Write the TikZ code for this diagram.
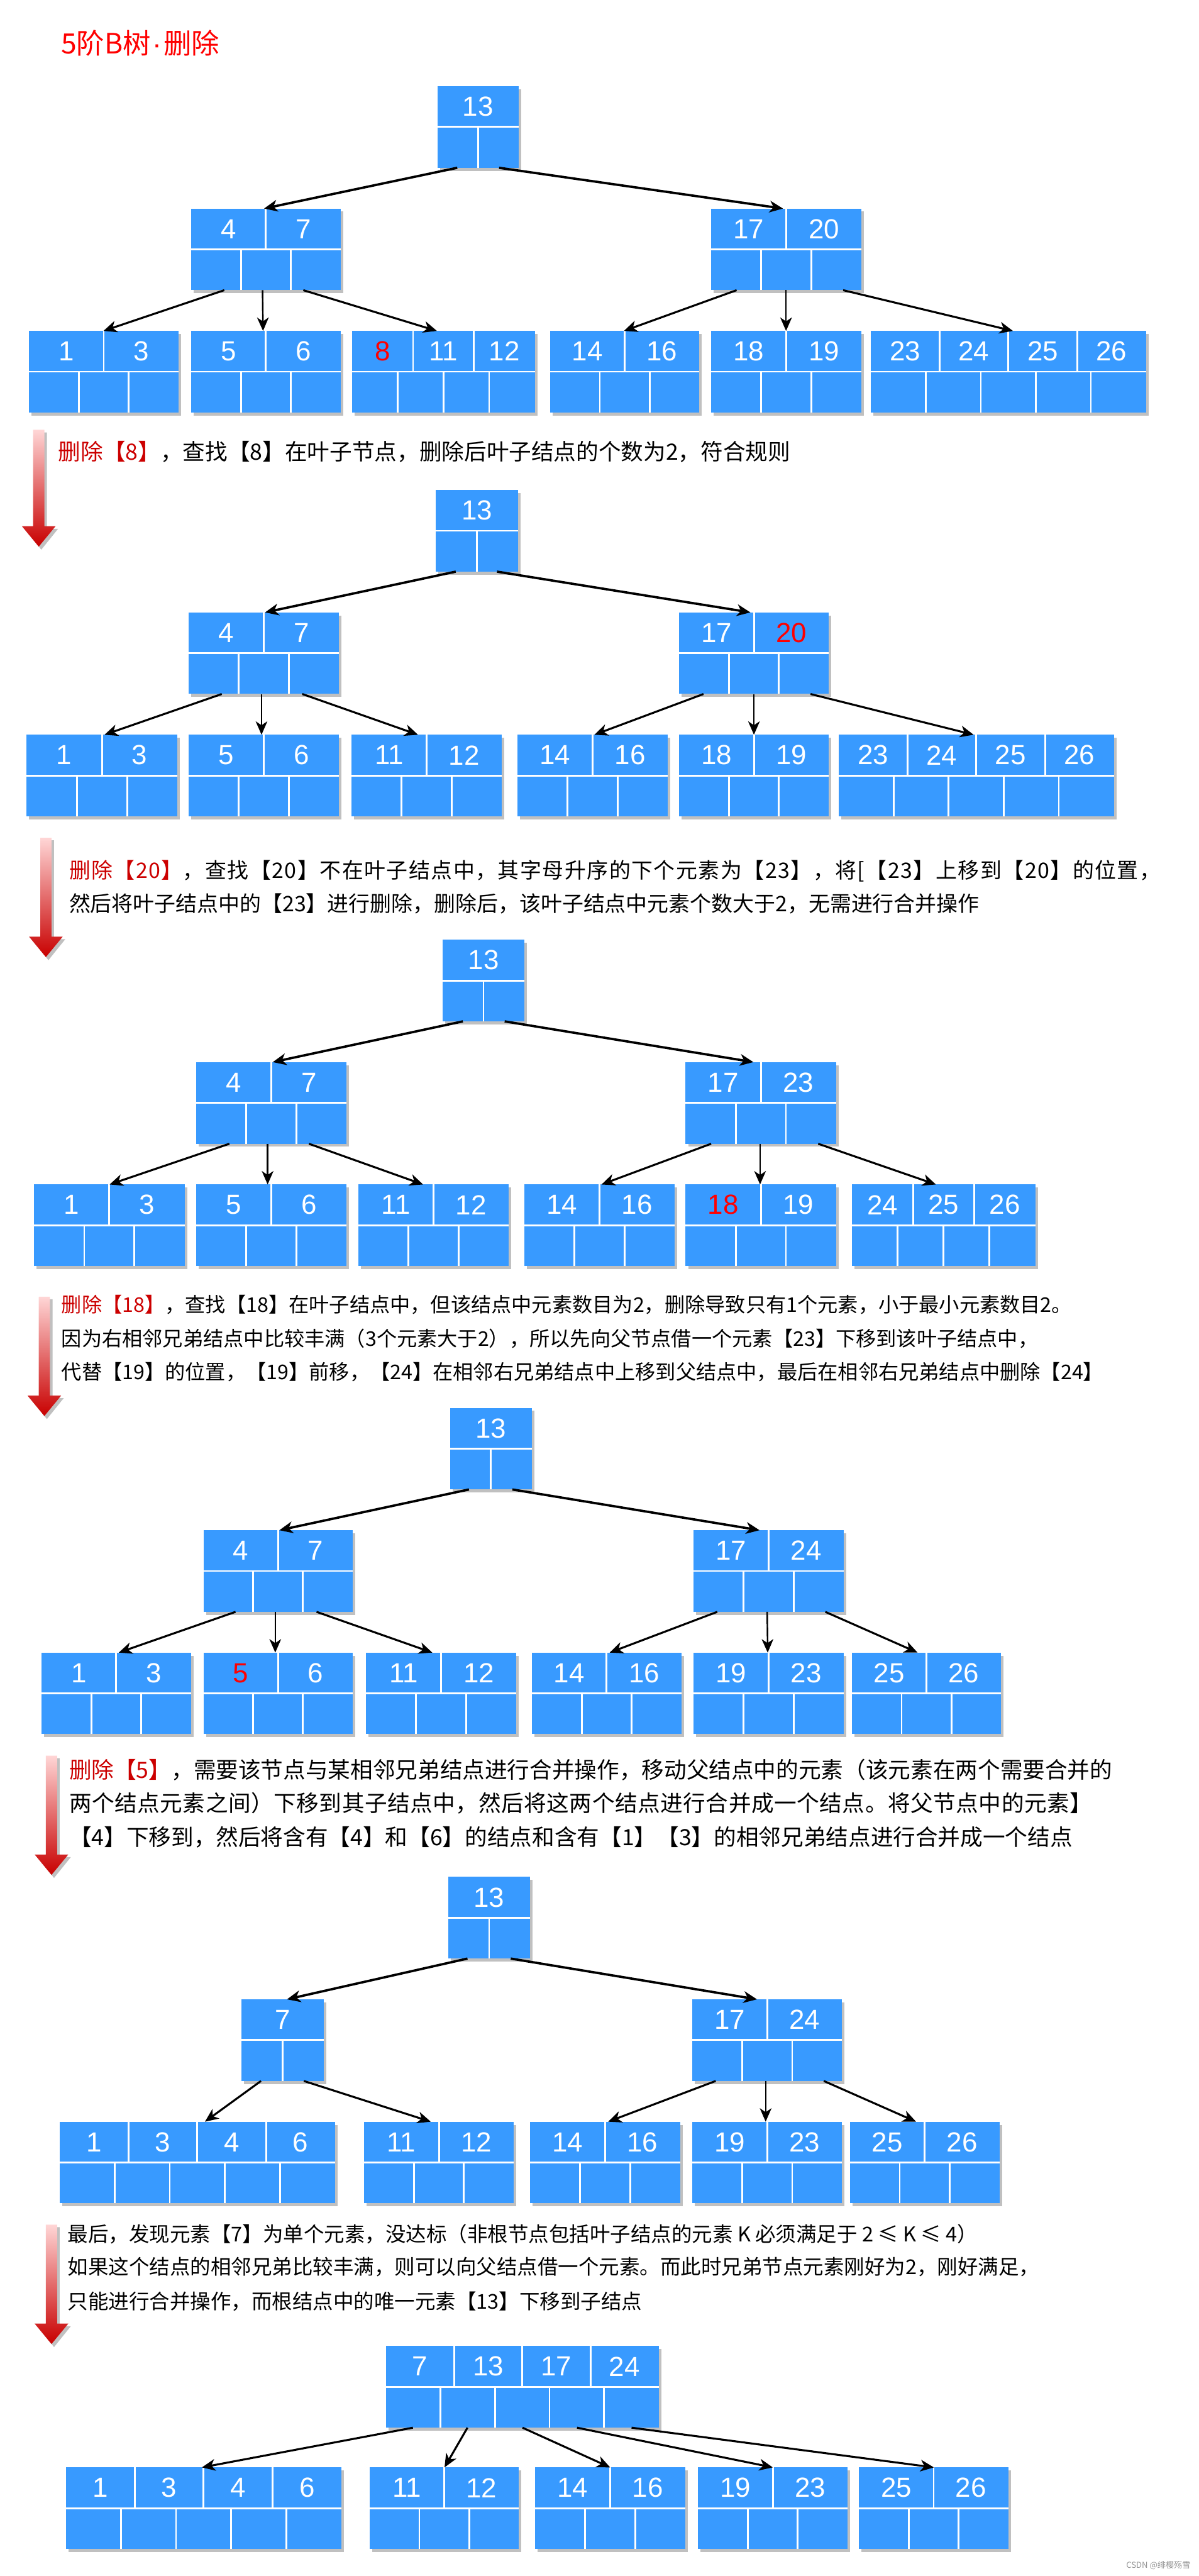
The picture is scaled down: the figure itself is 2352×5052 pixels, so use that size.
\documentclass[tikz,border=0pt]{standalone}
\usepackage{fontspec}
\setmainfont{Liberation Sans}
\newfontfamily\cjk{Noto Sans CJK SC}
\usetikzlibrary{arrows.meta,calc}
\definecolor{bblue}{RGB}{56,154,255}
\definecolor{shgray}{RGB}{192,192,192}
\definecolor{keyred}{RGB}{255,0,0}
\definecolor{txtred}{RGB}{204,0,0}
\definecolor{titlered}{RGB}{255,0,0}
\definecolor{arrtop}{RGB}{255,214,214}
\definecolor{arrbot}{RGB}{200,0,0}
\definecolor{wmgray}{RGB}{150,150,150}
\newcommand\kred[1]{\textcolor{keyred}{#1}}
\tikzset{
  nodebox/.style={inner sep=0pt, outer sep=0pt, minimum height=1.6cm, anchor=north west},
  sepline/.style={white, line width=1pt},
  keytext/.style={text=white, inner sep=0pt, font=\fontsize{15.4}{18}\selectfont},
  edge/.style={-{Stealth[length=7.5pt,width=6.5pt,inset=2.2pt]}, black},
  desc/.style={anchor=base west, inner sep=0pt, font=\cjk\fontsize{#1}{14}\selectfont},
  desc/.default=12.2,
}
\newcommand\btnode[6]{%
  \fill[shgray] ({#2+5},{#3+6}) rectangle ++(#4,160);
  \fill[bblue] (#2,#3) rectangle ++(#4,160);
  \node[nodebox, minimum width={#4*0.01cm}] (#1) at (#2,#3) {};
  \draw[sepline] (#2,{#3+80}) -- ++(#4,0);
  \foreach \k [count=\i] in {#6} {\node[keytext] at ({#2+(\i-0.5)*#4/#5},{#3+40}) {\k};}
  \pgfmathtruncatemacro\nkm{#5-1}%
  \ifnum\nkm>0
    \foreach \i in {1,...,\nkm} {\draw[sepline] ({#2+\i*#4/#5},#3) -- ++(0,80);}
  \fi
  \foreach \i in {1,...,#5} {\draw[sepline] ({#2+\i*#4/(#5+1)},{#3+80}) -- ++(0,80);}
}
\newcommand\redarr[3]{%
  \fill[shgray] ({#1-11+5},{#2+5}) -- ({#1+11+5},{#2+5}) -- ({#1+11+5},{#3-40+5}) -- ({#1+33+5},{#3-40+5}) -- ({#1+5},{#3+6}) -- ({#1-33+5},{#3-40+5}) -- ({#1-11+5},{#3-40+5}) -- cycle;
  \shade[top color=arrtop, bottom color=arrbot] ({#1-11},#2) -- ({#1+11},#2) -- ({#1+11},{#3-40}) -- ({#1+33},{#3-40}) -- (#1,#3) -- ({#1-33},{#3-40}) -- ({#1-11},{#3-40}) -- cycle;
}
\begin{document}
\begin{tikzpicture}[x=0.01cm,y=-0.01cm]
\fill[white] (0,0) rectangle (2352,5052);
\useasboundingbox (0,0) rectangle (2352,5052);

\node[anchor=base west, inner sep=0pt, text=titlered, font=\cjk\fontsize{15.6}{18}\selectfont] (title) at (119,105) {5阶B树{\rmfamily\kern1pt·\kern1pt}删除};

% ---------- tree 1 ----------
\btnode{a0}{858}{169}{159}{1}{13}
\btnode{a1}{375}{409}{293}{2}{4,7}
\btnode{a2}{1395}{409}{295}{2}{17,20}
\btnode{a3}{57}{649}{293}{2}{1,3}
\btnode{a4}{375}{649}{293}{2}{5,6}
\btnode{a5}{691}{649}{358}{3}{\kred{8},11,12}
\btnode{a6}{1079}{649}{293}{2}{14,16}
\btnode{a7}{1395}{649}{295}{2}{18,19}
\btnode{a8}{1708}{649}{540}{4}{23,24,25,26}

% ---------- tree 2 ----------
\btnode{b0}{855}{961}{161}{1}{13}
\btnode{b1}{370}{1201}{295}{2}{4,7}
\btnode{b2}{1332}{1201}{294}{2}{17,\kred{20}}
\btnode{b3}{52}{1441}{296}{2}{1,3}
\btnode{b4}{370}{1441}{295}{2}{5,6}
\btnode{b5}{690}{1441}{294}{2}{11,12}
\btnode{b6}{1015}{1441}{295}{2}{14,16}
\btnode{b7}{1332}{1441}{294}{2}{18,19}
\btnode{b8}{1645}{1441}{540}{4}{23,24,25,26}

% ---------- tree 3 ----------
\btnode{c0}{868}{1843}{161}{1}{13}
\btnode{c1}{385}{2083}{295}{2}{4,7}
\btnode{c2}{1345}{2083}{295}{2}{17,23}
\btnode{c3}{67}{2323}{295}{2}{1,3}
\btnode{c4}{385}{2323}{295}{2}{5,6}
\btnode{c5}{703}{2323}{295}{2}{11,12}
\btnode{c6}{1029}{2323}{294}{2}{14,16}
\btnode{c7}{1345}{2323}{295}{2}{\kred{18},19}
\btnode{c8}{1671}{2323}{360}{3}{24,25,26}

% ---------- tree 4 ----------
\btnode{d0}{883}{2761}{160}{1}{13}
\btnode{d1}{399}{3001}{293}{2}{4,7}
\btnode{d2}{1360}{3001}{295}{2}{17,24}
\btnode{d3}{81}{3241}{294}{2}{1,3}
\btnode{d4}{399}{3241}{293}{2}{\kred{5},6}
\btnode{d5}{718}{3241}{295}{2}{11,12}
\btnode{d6}{1043}{3241}{294}{2}{14,16}
\btnode{d7}{1360}{3241}{295}{2}{19,23}
\btnode{d8}{1671}{3241}{293}{2}{25,26}

% ---------- tree 5 ----------
\btnode{e0}{879}{3681}{161}{1}{13}
\btnode{e1}{474}{3921}{161}{1}{7}
\btnode{e2}{1358}{3921}{294}{2}{17,24}
\btnode{e3}{117}{4161}{540}{4}{1,3,4,6}
\btnode{e4}{714}{4161}{294}{2}{11,12}
\btnode{e5}{1040}{4161}{294}{2}{14,16}
\btnode{e6}{1358}{4161}{294}{2}{19,23}
\btnode{e7}{1667}{4161}{294}{2}{25,26}

% ---------- tree 6 ----------
\btnode{f0}{757}{4601}{535}{4}{7,13,17,24}
\btnode{f1}{129}{4839}{541}{4}{1,3,4,6}
\btnode{f2}{725}{4839}{293}{2}{11,12}
\btnode{f3}{1050}{4839}{294}{2}{14,16}
\btnode{f4}{1369}{4839}{294}{2}{19,23}
\btnode{f5}{1685}{4839}{293}{2}{25,26}

% ---------- connectors ----------
\foreach \p/\s/\c/\e/\w in {
  a0/39/a1/143/1.3, a0/121/a2/141/1.3,
  a1/65/a3/146/1.1, a1/140/a4/141/0.85, a1/220/a5/166/1.1,
  a2/50/a6/145/1.1, a2/147/a7/147/0.85, a2/259/a8/279/1.1,
  b0/39/b1/150/1.3, b0/120/b2/140/1.3,
  b1/65/b3/153/1.1, b1/143/b4/143/0.85, b1/223/b5/130/1.1,
  b2/48/b6/151/1.1, b2/147/b7/147/0.85, b2/258/b8/265/1.1,
  c0/40/c1/150/1.3, c0/122/c2/133/1.3,
  c1/65/c3/148/1.1, c1/140/c4/140/0.85, c1/221/c5/127/1.1,
  c2/50/c6/151/1.1, c2/146/c7/146/0.85, c2/260/c8/165/1.1,
  d0/37/d1/149/1.3, d0/122/d2/130/1.3,
  d1/63/d3/152/1.1, d1/141/d4/141/0.85, d1/222/d5/130/1.1,
  d2/47/d6/153/1.1, d2/145/d7/146/0.85, d2/259/d8/129/1.1,
  e0/38/e1/89/1.3, e0/123/e2/127/1.3,
  e1/38/e3/285/1.1, e1/122/e4/131/1.1,
  e2/46/e5/153/1.1, e2/144/e6/144/0.85, e2/258/e7/130/1.1,
  f0/53/f1/267/1.1, f0/160/f2/147/1.1, f0/268/f3/147/1.1,
  f0/375/f4/147/1.1, f0/482/f5/147/1.1}
  {\draw[edge, line width=\w pt] ($(\p.south west)+(\s,0)$) -- ($(\c.north west)+(\e,0)$);}

% ---------- red arrows ----------
\redarr{76}{843}{1072}
\redarr{90}{1643}{1877}
\redarr{87}{2543}{2777}
\redarr{101}{3443}{3677}
\redarr{101}{4363}{4597}

% ---------- texts ----------
\node[desc=12.5] (t1) at (114,902) {\textcolor{txtred}{删除【8】}，查找【8】在叶子节点，删除后叶子结点的个数为2，符合规则};

\node[desc=11.9] (t2a) at (135,1723) {\addfontfeature{LetterSpace=4.4}\textcolor{txtred}{删除【20】}，查找【20】不在叶子结点中，其字母升序的下个元素为【23】，将[【23】上移到【20】的位置，};
\node[desc=11.9] (t2b) at (135,1788) {然后将叶子结点中的【23】进行删除，删除后，该叶子结点中元素个数大于2，无需进行合并操作};

\node[desc=11.3] (t3a) at (120,2574) {\textcolor{txtred}{删除【18】}，查找【18】在叶子结点中，但该结点中元素数目为2，删除导致只有1个元素，小于最小元素数目2。};
\node[desc=11.3] (t3b) at (120,2640) {因为右相邻兄弟结点中比较丰满（3个元素大于2），所以先向父节点借一个元素【23】下移到该叶子结点中，};
\node[desc=11.3] (t3c) at (120,2706) {代替【19】的位置，【19】前移，【24】在相邻右兄弟结点中上移到父结点中，最后在相邻右兄弟结点中删除【24】};

\node[desc=12.5] (t4a) at (135,3488) {\textcolor{txtred}{删除【5】}，需要该节点与某相邻兄弟结点进行合并操作，移动父结点中的元素（该元素在两个需要合并的};
\node[desc=12.5] (t4b) at (135,3553) {\addfontfeature{LetterSpace=1.5}两个结点元素之间）下移到其子结点中，然后将这两个结点进行合并成一个结点。将父节点中的元素】};
\node[desc=12.5] (t4c) at (135,3619) {【4】下移到，然后将含有【4】和【6】的结点和含有【1】【3】的相邻兄弟结点进行合并成一个结点};

\node[desc=11.4] (t5a) at (132,4396) {最后，发现元素【7】为单个元素，没达标（非根节点包括叶子结点的元素 K 必须满足于 2 ≤ K ≤ 4）};
\node[desc=11.4] (t5b) at (132,4461) {如果这个结点的相邻兄弟比较丰满，则可以向父结点借一个元素。而此时兄弟节点元素刚好为2，刚好满足，};
\node[desc=11.4] (t5c) at (132,4528) {只能进行合并操作，而根结点中的唯一元素【13】下移到子结点};

\node[anchor=base east, inner sep=0pt, text=wmgray, font=\cjk\fontsize{4.6}{5}\selectfont] (wm) at (2336,5037) {CSDN @绯樱殇雪};
\end{tikzpicture}
\end{document}
